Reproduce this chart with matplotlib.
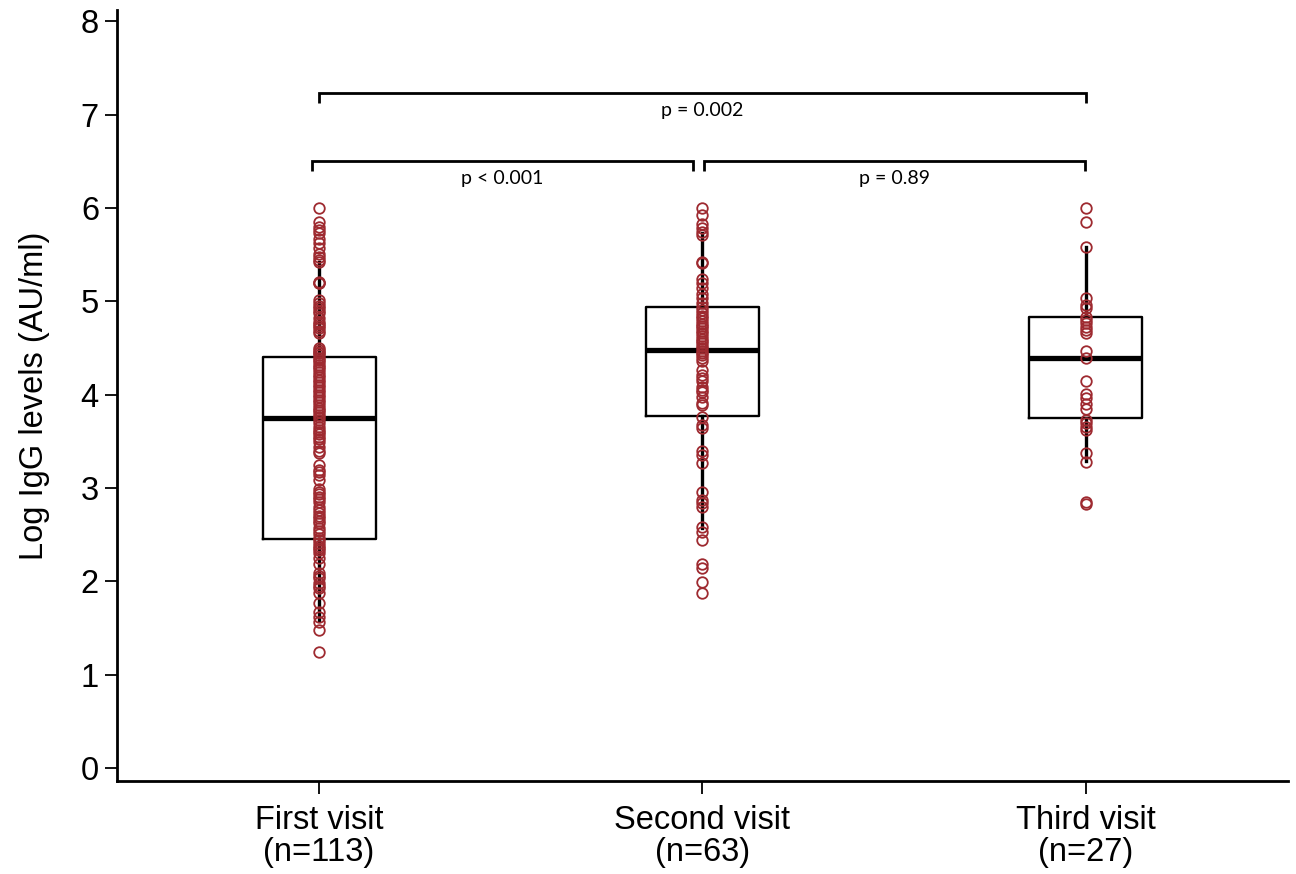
import matplotlib
matplotlib.use("Agg")
import matplotlib.pyplot as plt

categories = ["First visit\n(n=113)", "Second visit\n(n=63)", "Third visit\n(n=27)"]

first_visit = [6.00, 5.85, 5.80, 5.76, 5.73, 5.67, 5.62, 5.57, 5.51, 5.47, 5.44, 5.42,
               5.21, 5.20, 5.19,
               5.01, 4.98, 4.95, 4.93, 4.87, 4.82, 4.78, 4.76, 4.71, 4.68, 4.66,
               4.50, 4.46, 4.44, 4.42, 4.39, 4.37, 4.35, 4.29, 4.27, 4.24, 4.19, 4.16,
               4.13, 4.10, 4.08, 4.03, 4.00, 3.97, 3.94, 3.92, 3.89, 3.86, 3.83, 3.81,
               3.78, 3.76, 3.73, 3.70, 3.65, 3.60,
               3.58, 3.55, 3.52, 3.49, 3.44, 3.37, 3.24, 3.19, 3.17, 3.14, 3.08,
               2.96, 2.93, 2.90, 2.88, 2.85, 2.80, 2.76, 2.73, 2.70, 2.68, 2.65, 2.62,
               2.57, 2.54, 2.51, 2.46, 2.44, 2.41, 2.38, 2.36, 2.33, 2.30, 2.25, 2.19,
               2.09, 2.06, 2.03, 1.98, 1.95, 1.93, 1.87, 1.77, 1.67, 1.62, 1.56, 1.48, 1.24,
               4.90, 4.73, 4.48, 4.32, 4.21, 4.05, 3.62, 3.40, 2.99]

second_visit = [6.00, 5.92, 5.83, 5.78, 5.74, 5.71, 5.42, 5.41,
                5.24, 5.19, 5.14, 5.08, 5.03, 4.98, 4.94, 4.91, 4.87, 4.84, 4.82, 4.79,
                4.76, 4.73, 4.71, 4.68, 4.66, 4.63, 4.60, 4.57, 4.55, 4.52, 4.50, 4.47,
                4.44, 4.42, 4.39,
                4.26, 4.21, 4.18, 4.15, 4.08, 4.03, 3.97, 3.91, 3.89, 3.76, 3.67, 3.64,
                3.39, 3.35, 3.27, 2.96, 2.87, 2.84, 2.80, 2.58, 2.53, 2.44, 2.19, 2.14,
                1.99, 1.87,
                4.36, 4.05]

third_visit = [6.00, 5.85, 5.58, 5.03, 4.96, 4.93, 4.83, 4.80, 4.77, 4.72, 4.69, 4.66,
               4.47, 4.39, 4.15, 4.01, 3.96, 3.90, 3.85, 3.73, 3.69, 3.65, 3.62, 3.37,
               3.28, 2.85, 2.83]

# box summary values (median, q1, q3, lower whisker, upper whisker)
medians = [3.75, 4.48, 4.39]
q1s = [2.45, 3.77, 3.75]
q3s = [4.40, 4.94, 4.83]
whis_lo = [1.58, 2.57, 3.29]
whis_hi = [5.42, 5.73, 5.58]

comparisons = [(1, 2, "p < 0.001"), (2, 3, "p = 0.89"), (1, 3, "p = 0.002")]

point_color = "#9E2A30"

fig = plt.figure(figsize=(12.96, 8.74), dpi=100)
ax = fig.add_axes([0.0903, 0.1064, 0.9035, 0.8822])

positions = [1, 2, 3]
stats = []
for i in range(3):
    stats.append(dict(med=medians[i], q1=q1s[i], q3=q3s[i],
                      whislo=whis_lo[i], whishi=whis_hi[i], fliers=[]))

ax.bxp(stats, positions=positions, widths=0.295, showcaps=False, showfliers=False,
       boxprops=dict(color="black", linewidth=1.7),
       medianprops=dict(color="black", linewidth=3.8),
       whiskerprops=dict(color="black", linewidth=2.4),
       zorder=2)

for pos, vals in zip(positions, [first_visit, second_visit, third_visit]):
    ax.plot([pos] * len(vals), vals, linestyle="none", marker="o",
            markersize=7.6, markerfacecolor="none", markeredgecolor=point_color,
            markeredgewidth=1.3, zorder=3)

# significance brackets
bracket_specs = {
    (1, 2): (0.982, 1.975, 6.50),
    (2, 3): (2.005, 2.998, 6.50),
    (1, 3): (1.0, 3.0, 7.23),
}
drop = 0.11
for a, b, label in comparisons:
    x0, x1, yb = bracket_specs[(a, b)]
    ax.plot([x0, x0, x1, x1], [yb - drop, yb, yb, yb - drop], color="black",
            linewidth=2.0, solid_capstyle="butt", solid_joinstyle="miter", zorder=4)
    ax.text((x0 + x1) / 2, yb - 0.19, label, ha="center", va="center",
            fontsize=14, family="Lato", color="black")

ax.set_xlim(0.473, 3.527)
ax.set_ylim(-0.14, 8.12)
ax.set_yticks(range(0, 9))
ax.set_xticks(positions)
ax.set_xticklabels(categories, family="Liberation Sans", fontsize=23.5, linespacing=1.05)
for lab in ax.get_yticklabels():
    lab.set_family("Liberation Sans")
    lab.set_fontsize(23.5)
ax.set_ylabel("Log IgG levels (AU/ml)", family="Liberation Sans", fontsize=23.5, labelpad=22)

ax.spines["top"].set_visible(False)
ax.spines["right"].set_visible(False)
ax.spines["left"].set_linewidth(2.0)
ax.spines["bottom"].set_linewidth(2.0)
ax.tick_params(axis="both", direction="out", length=9, width=1.3, pad=4, colors="black")
ax.tick_params(axis="x", pad=8)

fig.savefig("out.png", dpi=100)
